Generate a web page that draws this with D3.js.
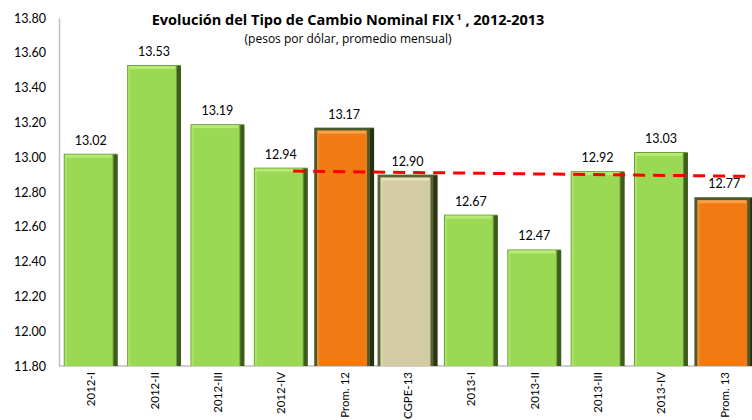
<!DOCTYPE html>
<html><head><meta charset="utf-8">
<script src="https://cdn.jsdelivr.net/npm/d3@7"></script>
<style>body{margin:0;background:#fff}svg{display:block}text{font-family:Lato,"Open Sans",sans-serif}</style>
</head><body>
<svg id="c" width="752" height="420"></svg>
<script>
const categories = ["2012-I","2012-II","2012-III","2012-IV","Prom. 12","CGPE-13","2013-I","2013-II","2013-III","2013-IV","Prom. 13"];
const values = [13.02,13.53,13.19,12.94,13.17,12.90,12.67,12.47,12.92,13.03,12.77];
const kinds = ["q","q","q","q","avg","exp","q","q","q","q","avg"];
const yTicks = [11.8,12.0,12.2,12.4,12.6,12.8,13.0,13.2,13.4,13.6,13.8];
const dashValues = [12.92, 12.89];
const dashCats = ["2012-IV","Prom. 13"];

const svg = d3.select("#c");
const x = d3.scaleBand().domain(categories).range([59,756]).paddingInner(0.15).paddingOuter(0.075);
const y = d3.scaleLinear().domain([11.8,13.8]).range([366,18]);

const styles = {
  q:   {fill:"#9bd955", hi:"#b6eb75", edge:"#6f9e3a", shade:"#3f5c1f"},
  avg: {fill:"#f27a12", hi:"#f7a04a", edge:"#4d5a2b", shade:"#26300f"},
  exp: {fill:"#d3cba4", hi:"#e6dfc0", edge:"#59632f", shade:"#2e3515"}
};

// y axis
const yAxis = svg.append("g").attr("transform","translate(59,0)")
  .call(d3.axisLeft(y).tickValues(yTicks).tickFormat(d3.format(".2f")).tickSize(0).tickPadding(13));
yAxis.select(".domain").attr("stroke","#bfbfbf").attr("stroke-width",1.5);
yAxis.selectAll("text").attr("font-size",12.5).attr("fill","#000");

// x axis line
svg.append("line").attr("x1",59).attr("x2",752).attr("y1",y(11.8)).attr("y2",y(11.8)).attr("stroke","#bfbfbf").attr("stroke-width",1.5);

// bars
const g = svg.append("g");
categories.forEach((c,i)=>{
  const s = styles[kinds[i]];
  const bw = x.bandwidth();
  const border = kinds[i]==="q" ? 1 : 3;
  const x0 = x(c) - (kinds[i]==="q" ? 0 : 3);
  const w = bw + (kinds[i]==="q" ? 0 : 6);
  const y0 = y(values[i]), h = y(11.8)-y0;
  const bg = g.append("g");
  bg.append("rect").attr("x",x0).attr("y",y0).attr("width",w).attr("height",h).attr("fill",s.edge);
  bg.append("rect").attr("x",x0+w-4).attr("y",y0+1).attr("width",4).attr("height",h-1).attr("fill",s.shade);
  bg.append("rect").attr("x",x0+border).attr("y",y0+border).attr("width",w-border*2-4).attr("height",h-border).attr("fill",s.fill);
  bg.append("rect").attr("x",x0+border+1).attr("y",y0+border).attr("width",w-border*2-6).attr("height",3).attr("fill",s.hi);
  bg.append("rect").attr("x",x0+border).attr("y",y0+border).attr("width",2).attr("height",h-border).attr("fill",s.hi).attr("opacity",0.6);
  g.append("text").attr("x",x(c)+bw/2).attr("y",y0-9).attr("text-anchor","middle").attr("font-size",12.5).attr("fill","#000").text(values[i].toFixed(2));
});

// dashed reference line
svg.append("line")
  .attr("x1",x(dashCats[0])+x.bandwidth()*0.73).attr("y1",y(dashValues[0]))
  .attr("x2",x(dashCats[1])+x.bandwidth()*0.93).attr("y2",y(dashValues[1]))
  .attr("stroke","#ff0000").attr("stroke-width",3).attr("stroke-dasharray","12,8");

// x labels
categories.forEach(c=>{
  const cx = x(c)+x.bandwidth()/2+4.5;
  svg.append("text").attr("transform",`translate(${cx},372) rotate(-90)`).attr("text-anchor","end")
    .attr("font-size",11.5).attr("fill","#000").text(c);
});

// title
const t = svg.append("text").attr("x",348).attr("y",25).attr("text-anchor","middle").attr("font-size",14.5).attr("font-weight","bold").attr("fill","#000").style("font-family","'Open Sans',sans-serif");
t.append("tspan").text("Evolución del Tipo de Cambio Nominal FIX");
t.append("tspan").attr("font-size",9.5).attr("dy",-5).attr("dx",2).text("1");
t.append("tspan").attr("dy",5).text(" , 2012-2013");
svg.append("text").attr("x",348).attr("y",43).attr("text-anchor","middle").attr("font-size",12).attr("fill","#000").style("font-family","'Open Sans',sans-serif").text("(pesos por dólar, promedio mensual)");
</script>
</body></html>
